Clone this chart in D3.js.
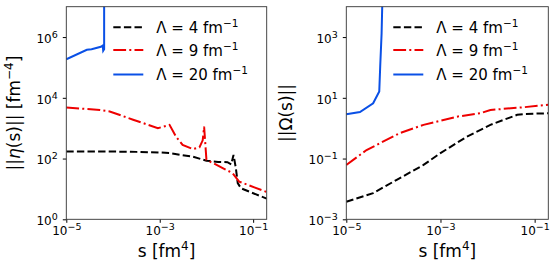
<!DOCTYPE html>
<html>
<head>
<meta charset="utf-8">
<script src="https://cdn.jsdelivr.net/npm/d3@7"></script>
<style>
  body { margin: 0; background: #fff; }
  text { font-family: "DejaVu Sans", sans-serif; fill: #000; }
</style>
</head>
<body>
<script>
// log10(s), log10(norm) pairs
const etaL4 = [[-5,2.23],[-4,2.23],[-3.5,2.22],[-3,2.2],[-2.79,2.18],[-2.29,2.06],[-2,1.93],[-1.75,1.89],[-1.55,1.88],[-1.47,1.81],[-1.42,2.12],[-1.37,1.68],[-1.33,1.19],[-1.26,1.02],[-0.71,0.68]];
const etaL9 = [[-5,3.68],[-4.28,3.6],[-4.07,3.55],[-3.57,3.28],[-3.04,3.0],[-2.79,3.11],[-2.65,2.72],[-2.51,2.45],[-2.29,2.31],[-2.15,2.37],[-2.08,2.6],[-2.05,3.05],[-2.0,1.96],[-1.44,1.52],[-1.3,1.24],[-0.71,0.9]];
const etaL20 = [[-5,5.27],[-4.56,5.58],[-4.46,5.6],[-4.26,5.68],[-4.22,5.72],[-4.21,5.55],[-4.19,5.6],[-4.19,7.5]];

const omL4 = [[-5,-2.42],[-4.43,-2.14],[-3.93,-1.7],[-3.36,-1.21],[-3.0,-0.82],[-2.44,-0.28],[-1.94,0.11],[-1.37,0.44],[-1.2,0.47],[-0.71,0.49]];
const omL9 = [[-5,-1.21],[-4.57,-0.72],[-3.86,-0.16],[-3.36,0.11],[-2.65,0.38],[-2.16,0.49],[-1.94,0.6],[-1.23,0.69],[-0.71,0.77]];
const omL20 = [[-5,0.46],[-4.71,0.53],[-4.43,0.82],[-4.3,1.21],[-4.28,2.03],[-4.25,3.13],[-4.23,4.5]];

const lambdas = ["4", "9", "20"];
const colors = ["#000000", "#ee0000", "#0a50e6"];
const dashes = ["7.4,3.2", "12.8,3.2,2,3.2", null];

const xTicks = [1e-5, 1e-3, 1e-1];
const etaTicks = [1e0, 1e2, 1e4, 1e6];
const omTicks = [1e-3, 1e-1, 1e1, 1e3];

const W = 557, H = 271;
const svg = d3.select("body").append("svg").attr("width", W).attr("height", H);

function tickLabel(sel, v) {
  const e = Math.round(Math.log10(v));
  sel.text(null);
  sel.append("tspan").text("10");
  sel.append("tspan").attr("dy", -5).attr("font-size", "9.5px").text(String(e).replace("-", "\u2212"));
}

function panel(x0, x1, yDom, yTicks, series, ylabOff, ylabel) {
  const top = 6.7, bottom = 219.3;
  const x = d3.scaleLog().domain([1e-5, Math.pow(10, -0.71)]).range([x0, x1]);
  const y = d3.scaleLog().domain(yDom).range([bottom, top]);
  const g = svg.append("g");

  const clipId = "clip" + Math.round(x0);
  g.append("clipPath").attr("id", clipId).append("rect")
    .attr("x", x0).attr("y", top).attr("width", x1 - x0).attr("height", bottom - top);

  const line = d3.line().x(d => x(Math.pow(10, d[0]))).y(d => y(Math.pow(10, d[1])));
  series.forEach((s, i) => {
    g.append("path").datum(s)
      .attr("clip-path", "url(#" + clipId + ")")
      .attr("fill", "none").attr("stroke", colors[i]).attr("stroke-width", 2)
      .attr("stroke-dasharray", dashes[i])
      .attr("d", line);
  });

  const xa = g.append("g").attr("transform", "translate(0," + bottom + ")")
    .call(d3.axisBottom(x).tickValues(xTicks).tickSize(3.5).tickPadding(4));
  xa.selectAll("text").attr("font-size", "12px").each(function(d) { tickLabel(d3.select(this), d); });
  const ya = g.append("g").attr("transform", "translate(" + x0 + ",0)")
    .call(d3.axisLeft(y).tickValues(yTicks).tickSize(3.5).tickPadding(5));
  ya.selectAll("text").attr("font-size", "12px").attr("dy", "0.45em").each(function(d) { tickLabel(d3.select(this), d); });
  g.selectAll(".domain").remove();
  g.append("rect").attr("x", x0).attr("y", top).attr("width", x1 - x0).attr("height", bottom - top)
    .attr("fill", "none").attr("stroke", "#333").attr("stroke-width", 0.9);

  // legend
  const lx = x0 + 47, ly = [27.3, 50, 74.5];
  lambdas.forEach((l, i) => {
    g.append("line").attr("x1", lx).attr("x2", lx + 30).attr("y1", ly[i]).attr("y2", ly[i])
      .attr("stroke", colors[i]).attr("stroke-width", 2).attr("stroke-dasharray", dashes[i]);
    const t = g.append("text").attr("x", lx + 43).attr("y", ly[i] + 5.5).attr("font-size", "15px");
    t.append("tspan").text("\u039B = " + l + " fm");
    t.append("tspan").attr("dy", -6).attr("font-size", "10.5px").text("\u22121");
  });

  // x label
  const xl = g.append("text").attr("x", (x0 + x1) / 2).attr("y", 257).attr("text-anchor", "middle").attr("font-size", "17px");
  xl.append("tspan").text("s [fm");
  xl.append("tspan").attr("dy", -7).attr("font-size", "12px").text("4");
  xl.append("tspan").attr("dy", 7).text("]");

  // y label
  const yl = g.append("text").attr("transform", "translate(" + (x0 - ylabOff) + "," + ((top + bottom) / 2) + ") rotate(-90)")
    .attr("text-anchor", "middle").attr("font-size", "17px");
  ylabel(yl);
}

panel(66.3, 266.7, [1, 1e7], etaTicks, [etaL4, etaL9, etaL20], 46, t => {
  t.append("tspan").text("||");
  t.append("tspan").attr("font-style", "italic").text("\u03B7");
  t.append("tspan").text("(s)|| [fm");
  t.append("tspan").attr("dy", -7).attr("font-size", "12px").text("\u22124");
  t.append("tspan").attr("dy", 7).text("]");
});

panel(346.3, 548.3, [1e-3, 1e4], omTicks, [omL4, omL9, omL20], 54, t => {
  t.text("||\u03A9(s)||");
});
</script>
</body>
</html>
